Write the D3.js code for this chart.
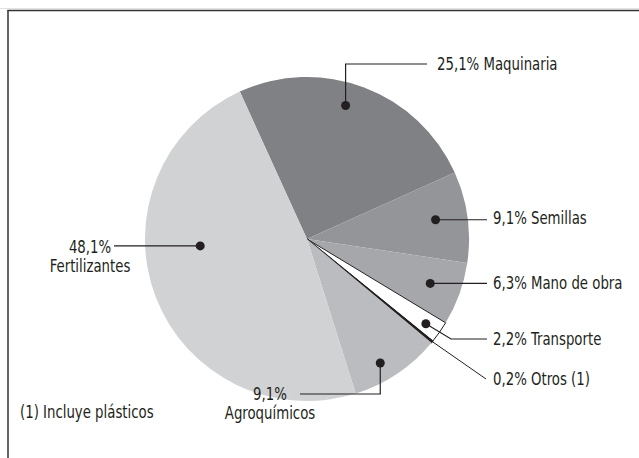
<!DOCTYPE html>
<html><head><meta charset="utf-8">
<script src="https://cdn.jsdelivr.net/npm/d3@7"></script>
<style>body{margin:0;background:#fff}svg{display:block}text{font-family:"DejaVu Sans Condensed","DejaVu Sans",sans-serif;fill:#231f20;font-size:17px}</style>
</head><body><svg id="c" width="639" height="458"></svg>
<script>
const categories = ["Maquinaria","Semillas","Mano de obra","Transporte","Otros (1)","Agroquímicos","Fertilizantes"];
const values = [25.1, 9.1, 6.3, 2.2, 0.2, 9.1, 48.1];
const valueLabels = ["25,1%","9,1%","6,3%","2,2%","0,2%","9,1%","48,1%"];
const note = "(1) Incluye plásticos";

const colors = ["#808184","#939598","#a6a7aa","#ffffff","#231f20","#bbbcbf","#d1d2d4"];
const svg = d3.select("#c");
const cx = 307, cy = 239, R = 162;
const SX = 0.87;

function txt(x, y, s, anchor) {
  return svg.append("text")
    .attr("transform", `translate(${x},${y}) scale(${SX},1)`)
    .attr("dy","0.36em")
    .attr("text-anchor", anchor || "start")
    .text(s);
}

svg.append("line").attr("x1",0).attr("x2",639).attr("y1",8.5).attr("y2",8.5).attr("stroke","#e2e2e2").attr("stroke-width",1);
svg.append("line").attr("x1",7.5).attr("x2",639).attr("y1",10.5).attr("y2",10.5).attr("stroke","#333").attr("stroke-width",1.5);
svg.append("line").attr("x1",8).attr("x2",8).attr("y1",10).attr("y2",458).attr("stroke","#333").attr("stroke-width",1.5);

const data = categories.map((c,i)=>({cat:c, v:values[i], lab:valueLabels[i], i}));
const a0 = -24.5*Math.PI/180;
const pie = d3.pie().sort(null).value(d=>d.v).startAngle(a0).endAngle(a0+2*Math.PI);
const arcs = pie(data);
const arc = d3.arc().innerRadius(0).outerRadius(R);
const g = svg.append("g").attr("transform",`translate(${cx},${cy})`);
g.selectAll("path").data(arcs).join("path")
  .attr("d",arc)
  .attr("fill",d=>colors[d.data.i])
  .attr("stroke",d=>(d.data.i===3||d.data.i===4)?"#231f20":"none")
  .attr("stroke-width",d=>d.data.i===3?1:(d.data.i===4?1.2:0))
  .attr("stroke-linejoin","miter");

// label layout: dot radius & fraction within slice, text position
const layout = [
  {r:139, f:0.45, pts:(p)=>[[p[0],64],[427,64]], tx:437, ty:64, two:false},
  {r:130, f:0.48, pts:(p)=>[[487,p[1]]], tx:493, ty:218, two:false},
  {r:131, f:0.5, pts:(p)=>[[487,p[1]]], tx:493, ty:283, two:false},
  {r:146, f:0.55, pts:(p)=>[[451,339],[487,339]], tx:493, ty:339, two:false},
  {r:null},
  {r:144, f:0.6, pts:(p)=>[[p[0],394],[300,394]], tx:270, ty:394, two:true},
  {r:107, f:0.6, pts:(p)=>[[114,p[1]]], tx:90, ty:247, two:true}
];

arcs.forEach((a,k)=>{
  const L = layout[k];
  if (L.r===null) {
    const m = (a.startAngle+a.endAngle)/2;
    const ex = cx + (R-4)*Math.sin(m), ey = cy - (R-4)*Math.cos(m);
    svg.append("line").attr("x1",ex).attr("y1",ey).attr("x2",486).attr("y2",379).attr("stroke","#231f20").attr("stroke-width",1);
    txt(493, 379, a.data.lab+" "+a.data.cat);
    return;
  }
  const mid = a.startAngle + (a.endAngle-a.startAngle)*L.f;
  const p = [cx + L.r*Math.sin(mid), cy - L.r*Math.cos(mid)];
  const pts = [p].concat(L.pts(p));
  svg.append("path").attr("d",d3.line()(pts)).attr("fill","none").attr("stroke","#231f20").attr("stroke-width",1.2);
  svg.append("circle").attr("cx",p[0]).attr("cy",p[1]).attr("r",4.5).attr("fill","#231f20");
  if (L.two) {
    txt(L.tx, L.ty, a.data.lab, "middle");
    txt(L.tx, L.ty+19, a.data.cat, "middle");
  } else {
    txt(L.tx, L.ty, a.data.lab+" "+a.data.cat);
  }
});
txt(20, 412, note);
</script></body></html>
